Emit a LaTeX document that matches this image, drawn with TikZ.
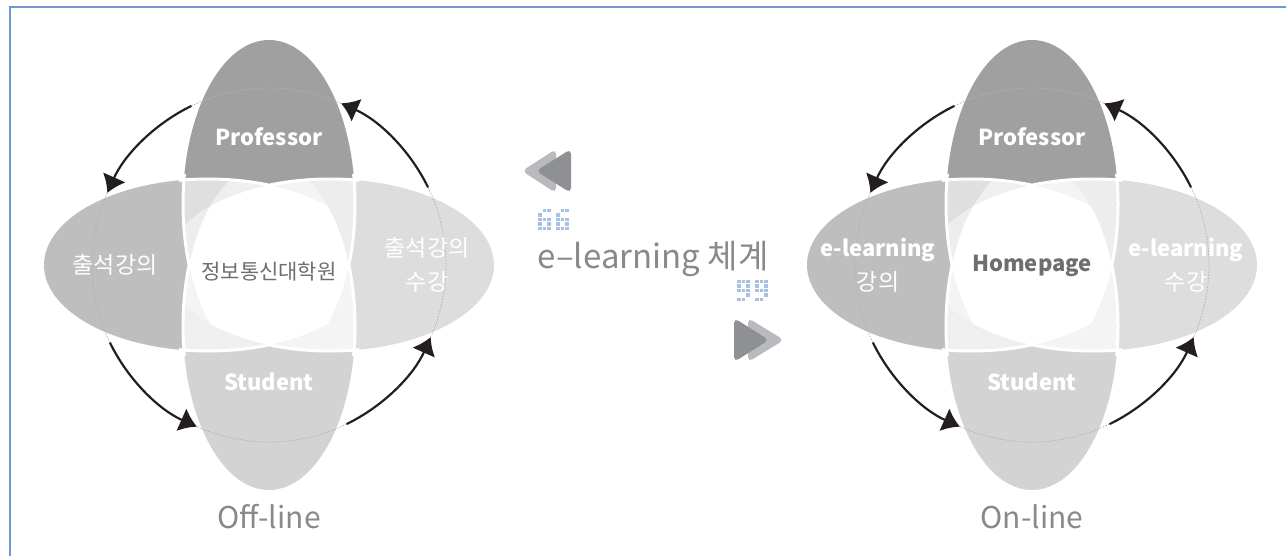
\documentclass[tikz,border=0pt]{standalone}
\usepackage{fontspec}
\setmainfont{Noto Sans CJK KR}
\usetikzlibrary{arrows.meta}
\definecolor{frameblue}{HTML}{6F98CF}
\definecolor{topgray}{HTML}{A0A0A0}
\definecolor{leftgray}{HTML}{BEBEBE}
\definecolor{rightgray}{HTML}{DCDDDC}
\definecolor{bottomgray}{HTML}{D3D3D3}
\definecolor{ulgray}{HTML}{DFDFDF}
\definecolor{urgray}{HTML}{ECEDEC}
\definecolor{llgray}{HTML}{EFEFEF}
\definecolor{lrgray}{HTML}{F4F4F4}
\definecolor{inkgray}{HTML}{6E6E70}
\definecolor{modegray}{HTML}{88898C}
\definecolor{chevlight}{HTML}{B9BABD}
\definecolor{chevdark}{HTML}{8F9093}
\definecolor{dotblue}{HTML}{A7C0E4}
\definecolor{arrowink}{HTML}{231F20}

\tikzset{
    seam/.style={draw=white, line width=3pt},
    ringdots/.style={draw=black!30, line width=0.8pt, dash pattern=on 1.5pt off 1.5pt},
    cyclearrow/.style={draw=arrowink, line width=2.2pt, -{Latex[length=17pt,width=25pt]}},
    petaltext/.style={text=white, font=\fontsize{22}{26}\selectfont\bfseries},
    sidetext/.style={text=white, font=\fontsize{23}{34}\selectfont, align=center},
    coretext/.style={text=inkgray, font=\fontsize{21}{24}\selectfont},
    modetext/.style={text=modegray, font=\fontsize{30}{34}\selectfont},
    titletext/.style={text=modegray, font=\fontsize{33}{36}\selectfont}
}

% four overlapping ellipses, centred at the scope origin
\newcommand{\flower}[1]{%
    \fill[leftgray] (-61,0) ellipse [x radius=164, y radius=86];
    \begin{scope}
        \clip (0,-300) rectangle (300,300);
        \fill[rightgray] (61,0) ellipse [x radius=164, y radius=86];
    \end{scope}
    \fill[topgray] (0,-61) ellipse [x radius=86, y radius=164];
    \begin{scope}
        \clip (-300,0) rectangle (300,300);
        \fill[bottomgray] (0,61) ellipse [x radius=86, y radius=164];
    \end{scope}
    % petals
    \begin{scope}
        \clip (0,-61) ellipse [x radius=86, y radius=164];
        \fill[ulgray] (-61,0) ellipse [x radius=164, y radius=86];
        \fill[urgray] (61,0) ellipse [x radius=164, y radius=86];
    \end{scope}
    \begin{scope}
        \clip (0,61) ellipse [x radius=86, y radius=164];
        \fill[llgray] (-61,0) ellipse [x radius=164, y radius=86];
        \fill[lrgray] (61,0) ellipse [x radius=164, y radius=86];
    \end{scope}
    % centre
    \begin{scope}
        \clip (0,-61) ellipse [x radius=86, y radius=164];
        \clip (0,61) ellipse [x radius=86, y radius=164];
        \clip (-61,0) ellipse [x radius=164, y radius=86];
        \fill[white] (61,0) ellipse [x radius=164, y radius=86];
    \end{scope}
    % white seams
    \begin{scope}
        \clip (-90,-100) rectangle (0,100);
        \draw[seam] (-61,0) ellipse [x radius=164, y radius=86];
    \end{scope}
    \begin{scope}
        \clip (0,-100) rectangle (90,100);
        \draw[seam] (61,0) ellipse [x radius=164, y radius=86];
    \end{scope}
    \begin{scope}
        \clip (-100,-90) rectangle (100,0);
        \draw[seam] (0,-61) ellipse [x radius=86, y radius=164];
    \end{scope}
    \begin{scope}
        \clip (-100,0) rectangle (100,90);
        \draw[seam] (0,61) ellipse [x radius=86, y radius=164];
    \end{scope}
    % ring and arrows
    \foreach \k in {0,1,2,3} {
        \draw[ringdots] ({-66-90*\k}:177) arc[start angle=-66-90*\k, end angle=-116-90*\k, radius=177];
        \coordinate (#1-s\k) at ({-26-90*\k}:177);
        \draw[cyclearrow] (#1-s\k) arc[start angle=-26-90*\k, end angle=-66-90*\k, radius=177];
    }
}

\begin{document}
\begin{tikzpicture}[x=1pt, y=-1pt]
    \useasboundingbox (0,0) rectangle (1286,556);
    \draw[frameblue, line width=2pt] (10,556) -- (10,7) -- (1286,7);

    % Off-line
    \begin{scope}[shift={(269,265)}]
        \flower{off}
        \node[petaltext] (off-prof) at (0,-128) {Professor};
        \node[petaltext] (off-stud) at (0,117) {Student};
        \node[sidetext] (off-left) at (-154,0) {출석강의};
        \node[sidetext] (off-right) at (158,0) {출석강의\\수강};
        \node[coretext] (off-core) at (0,7) {정보통신대학원};
        \node[modetext] (off-mode) at (0,252) {Off-line};
    \end{scope}

    % On-line
    \begin{scope}[shift={(1032,265)}]
        \flower{on}
        \node[petaltext] (on-prof) at (0,-128) {Professor};
        \node[petaltext] (on-stud) at (0,117) {Student};
        \node[sidetext] (on-left) at (-154,0) {{\fontsize{22}{34}\selectfont\bfseries e-learning}\\강의};
        \node[sidetext] (on-right) at (154,0) {{\fontsize{22}{34}\selectfont\bfseries e-learning}\\수강};
        \node[coretext, font=\fontsize{22}{26}\selectfont\bfseries] (on-core) at (0,1) {Homepage};
        \node[modetext] (on-mode) at (0,252) {On-line};
    \end{scope}

    % middle
    \fill[chevlight, rounded corners=5pt] (522,171) -- (556,149) -- (556,193) -- cycle;
    \fill[chevdark, rounded corners=5pt] (536,171) -- (571,149) -- (571,193) -- cycle;
    \fill[chevlight, rounded corners=5pt] (784,340) -- (748,318) -- (748,362) -- cycle;
    \fill[chevdark, rounded corners=5pt] (769,340) -- (734,318) -- (734,362) -- cycle;
    \foreach \gx in {538,556}
        \foreach \c/\r in {1/0,2/0,0/1,0/2,1/2,2/2,0/3,2/3,0/4,1/4,2/4}
            \fill[dotblue] (\gx+4.5*\c,209+4.5*\r) rectangle ++(3.5,3.5);
    \foreach \gx in {737,755}
        \foreach \c/\r in {1/4,0/4,2/3,2/2,1/2,0/2,2/1,0/1,2/0,1/0,0/0}
            \fill[dotblue] (\gx+4.5*\c,280+4.5*\r) rectangle ++(3.5,3.5);
    \node[titletext] (title) at (653,259) {e–learning 체계};
\end{tikzpicture}
\end{document}
